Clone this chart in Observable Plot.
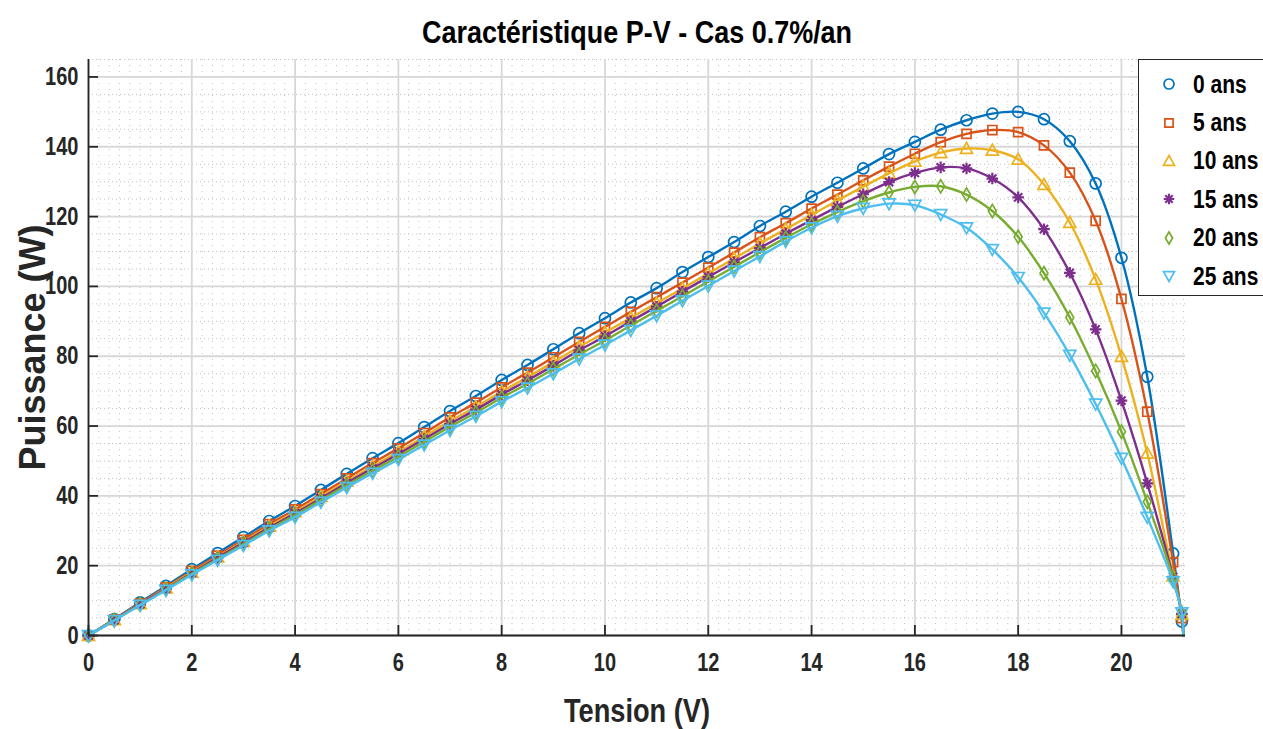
<!DOCTYPE html>
<html><head><meta charset="utf-8">
<script src="https://cdn.jsdelivr.net/npm/d3@7"></script>
<script src="https://cdn.jsdelivr.net/npm/@observablehq/plot@0.6"></script>
<style>
html,body{margin:0;padding:0;background:#fff;overflow:hidden;}
#wrap{position:relative;width:1263px;height:729px;}
#legend{position:absolute;left:1138px;top:59px;width:140px;height:237px;border:1.5px solid #262626;background:#fff;box-sizing:border-box;padding-top:5px;}
#legend .row{height:38.4px;display:flex;align-items:center;}
#legend svg{margin-left:20px;width:20px;height:20px;overflow:visible;flex:none;}
#legend span{margin-left:14px;font-family:"Liberation Sans",Arial,sans-serif;font-weight:bold;font-size:25px;color:#000;display:inline-block;transform:scaleX(0.84);transform-origin:left center;white-space:nowrap;}
</style></head>
<body><div id="wrap"><div id="chart"></div><div id="legend"></div></div>
<script>
// ---- data ----
const V = [0,0.5,1,1.5,2,2.5,3,3.5,4,4.5,5,5.5,6,6.5,7,7.5,8,8.5,9,9.5,10,10.5,11,11.5,12,12.5,13,13.5,14,14.5,15,15.5,16,16.5,17,17.5,18,18.5,19,19.5,20,20.5,21,21.17,21.2];
const P0  = [0,4.7,9.5,14.2,19.0,23.6,28.2,32.8,37.1,41.7,46.3,50.8,55.1,59.7,64.3,68.6,73.2,77.5,82.0,86.6,90.9,95.4,99.5,104.1,108.4,112.7,117.3,121.4,125.7,129.7,133.8,137.9,141.4,144.9,147.6,149.5,150.0,147.9,141.6,129.5,108.2,74.1,23.5,4.0,0];
const P5  = [0,4.6,9.2,13.8,18.5,22.9,27.4,31.9,36.1,40.5,45.0,49.4,53.6,58.0,62.5,66.7,71.1,75.3,79.7,84.1,88.4,92.7,96.9,101.1,105.4,109.7,114.1,118.1,122.3,126.3,130.4,134.3,138.0,141.3,143.7,144.8,144.2,140.4,132.6,118.8,96.4,64.1,21.0,5.0,0];
const P10 = [0,4.5,9.1,13.6,18.1,22.5,26.9,31.3,35.4,39.8,44.2,48.5,52.6,57.0,61.4,65.5,69.9,74.0,78.3,82.7,86.8,91.0,95.2,99.4,103.7,108.0,112.3,116.4,120.5,124.6,128.6,132.4,135.8,138.3,139.5,139.0,136.4,129.2,118.3,102.0,79.9,52.2,17.0,6.0,0];
const P15 = [0,4.4,9.0,13.4,17.9,22.3,26.6,30.9,35.0,39.3,43.7,47.9,52.0,56.3,60.6,64.7,69.0,73.1,77.3,81.7,85.7,90.0,94.2,98.5,102.7,106.9,111.0,115.1,119.0,122.8,126.4,129.9,132.5,134.1,133.8,130.9,125.5,116.4,103.9,87.7,67.3,43.6,16.8,6.2,0];
const P20 = [0,4.4,8.8,13.2,17.7,21.9,26.2,30.5,34.5,38.8,43.1,47.2,51.2,55.5,59.8,63.8,68.1,72.1,76.3,80.5,84.5,88.8,93.0,97.2,101.4,105.6,109.8,113.9,117.8,121.3,124.4,126.9,128.5,128.7,126.3,121.6,114.2,103.8,91.1,75.8,58.4,38.3,16.5,6.4,0];
const P25 = [0,4.3,8.7,13.0,17.4,21.6,25.8,30.0,33.9,38.2,42.4,46.5,50.4,54.6,58.8,62.8,67.0,70.9,75.0,79.2,83.2,87.4,91.6,95.9,100.1,104.4,108.6,112.9,116.8,120.1,122.4,123.7,123.3,120.6,116.8,110.6,102.6,92.4,80.3,66.3,50.8,33.9,15.4,6.5,0];
const seriesNames = ["0 ans","5 ans","10 ans","15 ans","20 ans","25 ans"];
const seriesColors = ["#0072BD","#D95319","#EDB120","#7E2F8E","#77AC30","#4DBEEE"];
const xTicks = [0,2,4,6,8,10,12,14,16,18,20];
const yTicks = [0,20,40,60,80,100,120,140,160];
const title = "Caractéristique P-V - Cas 0.7%/an";
const xLabel = "Tension (V)";
const yLabel = "Puissance (W)";

// ---- marker shapes ----
const rOf = s => Math.sqrt(s / Math.PI);
const symCircle = {draw(c, s){const r=rOf(s); c.moveTo(r,0); c.arc(0,0,r,0,2*Math.PI);}};
const symSquare = {draw(c, s){const h=rOf(s)*0.82; c.moveTo(-h,-h); c.lineTo(h,-h); c.lineTo(h,h); c.lineTo(-h,h); c.closePath();}};
const symTriUp = {draw(c, s){const h=rOf(s)*1.1; c.moveTo(0,-h); c.lineTo(h,h*0.8); c.lineTo(-h,h*0.8); c.closePath();}};
const symTriDown = {draw(c, s){const h=rOf(s)*1.1; c.moveTo(0,h); c.lineTo(h,-h*0.8); c.lineTo(-h,-h*0.8); c.closePath();}};
const symStar = {draw(c, s){const r=rOf(s)*1.05; for (let k=0;k<4;k++){const a=k*Math.PI/4; c.moveTo(Math.cos(a)*r,Math.sin(a)*r); c.lineTo(-Math.cos(a)*r,-Math.sin(a)*r);}}};
const symDiamond = {draw(c, s){const r=rOf(s); c.moveTo(0,-r*1.2); c.lineTo(r*0.72,0); c.lineTo(0,r*1.2); c.lineTo(-r*0.72,0); c.closePath();}};
const symbols = [symCircle, symSquare, symTriUp, symStar, symDiamond, symTriDown];

const values = [P0,P5,P10,P15,P20,P25];
const series = seriesNames.map((name,k)=>({name, color: seriesColors[k], symbol: symbols[k],
  rows: V.map((v,i)=>({V:v, P:values[k][i], name}))}));

const minorX = d3.range(0, 21.3, 0.2);
const minorY = d3.range(0, 166, 5);
const sans = '"Liberation Sans",Arial,sans-serif';

const marks = [
  Plot.gridX(minorX, {stroke:"#b8b8b8", strokeOpacity:0.85, strokeWidth:1, strokeDasharray:"1,5"}),
  Plot.gridY(minorY, {stroke:"#b8b8b8", strokeOpacity:0.85, strokeWidth:1, strokeDasharray:"1,3"}),
  Plot.gridX(xTicks, {stroke:"#d8d8d8", strokeOpacity:1, strokeWidth:1.8}),
  Plot.gridY(yTicks, {stroke:"#d8d8d8", strokeOpacity:1, strokeWidth:1.8}),
];
series.forEach(s => {
  marks.push(Plot.line(s.rows, {x:"V", y:"P", stroke:s.color, strokeWidth:2.4, curve:"catmull-rom"}));
  marks.push(Plot.dot(s.rows.slice(0,-1), {x:"V", y:"P", symbol:s.symbol, r:5.5, stroke:s.color, fill:"none", strokeWidth: s.symbol===symStar?2.2:1.7}));
});
marks.push(
  Plot.ruleY([0], {stroke:"#262626", strokeWidth:1.8}),
  Plot.ruleX([0], {stroke:"#262626", strokeWidth:1.8}),
  Plot.axisX(xTicks, {tickSize:10, dy:-10, text:null, label:null, stroke:"#262626", strokeWidth:1.8}),
  Plot.axisY(yTicks, {tickSize:10, dx:10, text:null, label:null, stroke:"#262626", strokeWidth:1.8}),
  Plot.axisX(xTicks, {tickSize:0, tickPadding:18, label:null, className:"cond", fontFamily:sans, fontWeight:"bold", fontSize:25, fill:"#262626"}),
  Plot.axisY(yTicks, {tickSize:0, tickPadding:10, label:null, className:"cond", fontFamily:sans, fontWeight:"bold", fontSize:25, fill:"#262626"}),
  Plot.text([title], {frameAnchor:"top", dy:-26, lineAnchor:"middle", textAnchor:"middle", fontSize:31, fontWeight:"bold", fontFamily:sans, fill:"#000", className:"cond-title"}),
  Plot.text([xLabel], {frameAnchor:"bottom", dy:76, lineAnchor:"middle", textAnchor:"middle", fontSize:34, fontWeight:"bold", fontFamily:sans, fill:"#262626", className:"cond"}),
  Plot.text([yLabel], {frameAnchor:"left", dx:-55, rotate:-90, lineAnchor:"middle", textAnchor:"middle", fontSize:36, fontWeight:"bold", fontFamily:sans, fill:"#262626"})
);

const chart = Plot.plot({
  width:1263, height:729,
  marginLeft:88, marginRight:78, marginTop:59, marginBottom:94,
  x:{domain:[0,21.24]}, y:{domain:[0,165]},
  style:{background:"#fff", overflow:"visible"},
  marks
});
document.getElementById("chart").appendChild(chart);

// condensed look (narrow bold font of the original)
function condense(sel, f){
  chart.querySelectorAll(sel).forEach(t => {
    const w = t.getComputedTextLength();
    if (w > 0) { t.setAttribute("textLength", w*f); t.setAttribute("lengthAdjust","spacingAndGlyphs"); }
  });
}
condense("g.cond text", 0.8);
condense("g.cond-title text", 0.87);

// ---- legend ----
const leg = document.getElementById("legend");
series.forEach(s => {
  const row = document.createElement("div"); row.className="row";
  const p = d3.path(); s.symbol.draw(p, 25*Math.PI);
  row.innerHTML = `<svg viewBox="-10 -10 20 20"><path d="${p.toString()}" fill="none" stroke="${s.color}" stroke-width="${s.symbol===symStar?2.2:1.7}"/></svg><span>${s.name}</span>`;
  leg.appendChild(row);
});
</script></body></html>
